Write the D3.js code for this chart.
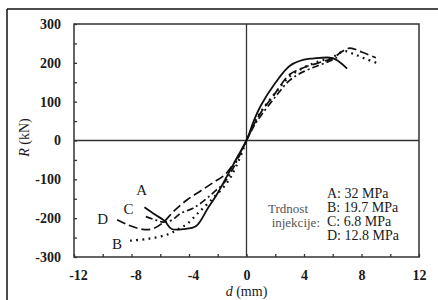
<!DOCTYPE html>
<html>
<head>
<meta charset="utf-8">
<script src="https://d3js.org/d3.v7.min.js"></script>
<style>
  body{ margin:0; background:#fff; }
  svg text{ font-family:"Liberation Serif","Times New Roman",serif; fill:#1a1a1a; }
  .ticklab{ font-size:14px; font-weight:bold; }
  .leg{ font-size:14px; }
  .curvelab{ font-size:15px; }
</style>
</head>
<body>
<svg id="chart" width="438" height="300"></svg>
<script>
  // curve A (solid)
  var aD = [-7.1,-6.4,-5.7,-5.2,-4.4,-3.5,-2.7,-2.0,-1.3,-0.6,0,0.5,1,2,3,4,4.6,5.9,6.4,7.0];
  var aR = [-172,-190,-207,-228,-228,-220,-175,-135,-88,-40,0,50,90,148,192,208,211,213,204,185];
  // curve B (dotted)
  var bD = [-8.1,-6.8,-5.5,-4.6,-4.1,-3.4,-2.5,-1.3,-0.5,0,0.5,1,2,3,4,5,6,6.8,7.5,8.3,9.2];
  var bR = [-258,-253,-242,-225,-214,-188,-155,-106,-48,0,42,74,122,165,188,203,215,230,222,210,198];
  // curve C (dash-dot)
  var cD = [-7.0,-6.3,-5.8,-5.2,-4.6,-3.8,-3.2,-2.3,-1.5,-0.7,0,0.5,1,2,3,4,5,5.8,6.3];
  var cR = [-196,-205,-210,-205,-188,-176,-162,-134,-106,-55,0,36,64,112,155,178,193,205,214];
  // curve D (long dash)
  var dD = [-9.0,-8.2,-7.2,-6.5,-5.8,-5.0,-4.1,-3.2,-2.3,-1.5,-0.7,0,0.5,1,2,3,4,5,6,6.6,7.2,8,9];
  var dR = [-204,-218,-229,-227,-211,-180,-152,-130,-108,-88,-48,0,40,72,122,170,188,200,212,228,238,228,213];

  var xTicks = [-12,-8,-4,0,4,8,12];
  var yTicks = [-300,-200,-100,0,100,200,300];
  var legendRows = ["A: 32 MPa","B: 19.7 MPa","C: 6.8 MPa","D: 12.8 MPa"];

  var svg = d3.select("#chart");
  var x = d3.scaleLinear().domain([-12,12]).range([74,419]);
  var y = d3.scaleLinear().domain([-300,300]).range([257,24]);

  // hyphen instead of unicode minus, like the original print
  var fmt = function(v){ return String(v); };

  // outer frame of the figure (scanned page border)
  svg.append("line").attr("x1",7).attr("x2",438).attr("y1",9).attr("y2",9)
    .attr("stroke","#111").attr("stroke-width",1.5);
  svg.append("line").attr("x1",7).attr("x2",7).attr("y1",9).attr("y2",300)
    .attr("stroke","#111").attr("stroke-width",1.5);

  // plot box
  svg.append("rect")
    .attr("x",x(-12)).attr("y",y(300))
    .attr("width",x(12)-x(-12)).attr("height",y(-300)-y(300))
    .attr("fill","none").attr("stroke","#333").attr("stroke-width",1.5);

  // zero lines
  svg.append("line").attr("x1",x(-12)).attr("x2",x(12)).attr("y1",y(0)).attr("y2",y(0))
    .attr("stroke","#333").attr("stroke-width",1.5);
  svg.append("line").attr("x1",x(0)).attr("x2",x(0)).attr("y1",y(300)).attr("y2",y(-300))
    .attr("stroke","#333").attr("stroke-width",1.3);

  // minor inward ticks
  var yMinor = svg.append("g").attr("transform","translate("+x(-12)+",0)")
    .call(d3.axisLeft(y).tickValues(d3.range(-300,301,50)).tickSize(-3).tickFormat(""));
  var xMinor = svg.append("g").attr("transform","translate(0,"+y(-300)+")")
    .call(d3.axisBottom(x).tickValues(d3.range(-12,13,2)).tickSize(-3).tickFormat(""));
  [yMinor,xMinor].forEach(function(g){
    g.select(".domain").remove();
    g.selectAll("line").attr("stroke","#333").attr("stroke-width",1.3);
  });

  // tick labels
  var yLab = svg.append("g").attr("transform","translate("+x(-12)+",0)")
    .call(d3.axisLeft(y).tickValues(yTicks).tickSize(0).tickPadding(13).tickFormat(fmt));
  var xLab = svg.append("g").attr("transform","translate(0,"+y(-300)+")")
    .call(d3.axisBottom(x).tickValues(xTicks).tickSize(0).tickPadding(13).tickFormat(fmt));
  [yLab,xLab].forEach(function(g){
    g.select(".domain").remove();
    g.selectAll("text").attr("class","ticklab").attr("font-family",null).attr("font-size",null);
  });
  xLab.selectAll("text").attr("dx",function(d){ return d<0 ? 4 : 0; });

  // axis titles
  var xt = svg.append("text").attr("x",x(0)).attr("y",296)
    .attr("text-anchor","middle").style("font-size","14px");
  xt.append("tspan").style("font-style","italic").text("d");
  xt.append("tspan").text(" (mm)");
  var yt = svg.append("text").attr("transform","translate(29,"+(y(0)-3)+") rotate(-90)")
    .attr("text-anchor","middle").style("font-size","14px");
  yt.append("tspan").style("font-style","italic").text("R");
  yt.append("tspan").text(" (kN)");

  // curves
  var line = d3.line().x(function(p){ return x(p[0]); }).y(function(p){ return y(p[1]); })
    .curve(d3.curveCatmullRom.alpha(0.5));
  var curves = [
    {d:aD, r:aR, dash:null, w:1.8},
    {d:bD, r:bR, dash:"1.8,4.4", w:2.3},
    {d:cD, r:cR, dash:"7,3,2,3", w:1.7},
    {d:dD, r:dR, dash:"9,4", w:1.7}
  ];
  curves.forEach(function(c){
    svg.append("path")
      .datum(d3.zip(c.d,c.r))
      .attr("d",line)
      .attr("fill","none")
      .attr("stroke","#111")
      .attr("stroke-width",c.w)
      .attr("stroke-dasharray",c.dash);
  });

  // curve labels
  var labs = [["A",-7.3,-128],["C",-8.2,-176],["D",-10.0,-202],["B",-9.0,-266]];
  labs.forEach(function(l){
    svg.append("text").attr("class","curvelab")
      .attr("x",x(l[1])).attr("y",y(l[2])+5)
      .attr("text-anchor","middle").text(l[0]);
  });

  // legend
  svg.append("text").attr("x",308).attr("y",213)
    .attr("text-anchor","end").style("fill","#555").style("font-size","13px").text("Trdnost");
  svg.append("text").attr("x",320).attr("y",227)
    .attr("text-anchor","end").style("fill","#555").style("font-size","13px").text("injekcije:");
  svg.append("g").selectAll("text").data(legendRows).enter().append("text")
    .attr("class","leg")
    .attr("x",327)
    .attr("y",function(d,i){ return 198 + i*14; })
    .text(function(d){ return d; });
</script>
</body>
</html>
